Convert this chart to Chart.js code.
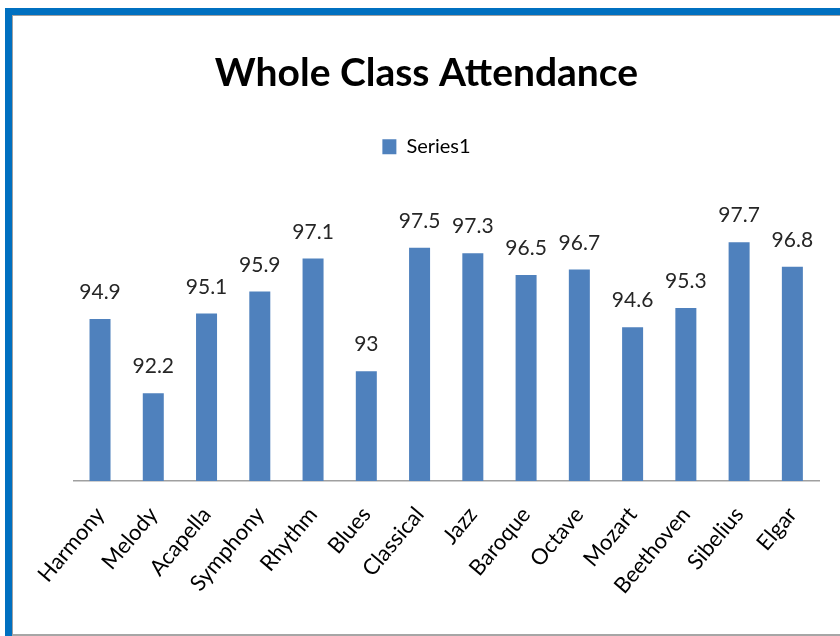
<!DOCTYPE html>
<html>
<head>
<meta charset="utf-8">
<script src="https://cdn.jsdelivr.net/npm/chart.js@4"></script>
<style>
  body { margin: 0; background: #fff; }
  #wrap { position: relative; width: 840px; height: 636px; overflow: hidden; }
  #frame {
    position: absolute; left: 5px; top: 8px; width: 900px; height: 625px;
    border-left: 7px solid #0070c0; border-top: 7px solid #0070c0;
    box-shadow: inset 1px 1px 0 #a0a0a0;
    pointer-events: none;
  }
  #bottomLine { position: absolute; left: 12px; top: 634px; width: 840px; height: 2px; background: #a6a6a6; }
  canvas { position: absolute; left: 0; top: 0; }
</style>
</head>
<body>
<div id="wrap">
  <canvas id="attendanceChart" width="840" height="636"></canvas>
  <div id="frame"></div>
  <div id="bottomLine"></div>
</div>
<script>
// 資料
const classes = ["Harmony", "Melody", "Acapella", "Symphony", "Rhythm", "Blues", "Classical",
                 "Jazz", "Baroque", "Octave", "Mozart", "Beethoven", "Sibelius", "Elgar"];
const attendance = [94.9, 92.2, 95.1, 95.9, 97.1, 93, 97.5, 97.3, 96.5, 96.7, 94.6, 95.3, 97.7, 96.8];
const seriesName = "Series1";
const chartTitle = "Whole Class Attendance";

const fontFamily = "Lato, 'Open Sans', sans-serif";

// 柱頂數值標籤
const valueLabels = {
    id: 'valueLabels',
    afterDatasetsDraw(chart) {
        let ctx = chart.ctx;
        let meta = chart.getDatasetMeta(0);
        ctx.save();
        ctx.font = "21px " + fontFamily;
        ctx.fillStyle = "#262626";
        ctx.textAlign = "center";
        ctx.textBaseline = "alphabetic";
        meta.data.forEach((bar, i) => {
            ctx.fillText(String(attendance[i]), bar.x, bar.y - 20);
        });
        ctx.restore();
    }
};

let ctx = document.getElementById("attendanceChart").getContext("2d");
window.attendanceChartInstance = new Chart(ctx, {
    type: 'bar',
    data: {
        labels: classes,
        datasets: [{
            label: seriesName,
            data: attendance,
            backgroundColor: '#4f81bd',
            borderWidth: 0,
            barPercentage: 0.8,
            categoryPercentage: 0.493
        }]
    },
    options: {
        responsive: false,
        animation: false,
        layout: { padding: { top: 16, left: 34, right: 21, bottom: 0 } },
        plugins: {
            title: {
                display: true,
                text: chartTitle,
                color: '#000',
                font: { family: fontFamily, size: 39, weight: 'bold' },
                padding: { top: 34, bottom: 16 }
            },
            // 空白 subtitle 當作圖例下方的間距
            subtitle: {
                display: true,
                text: '',
                weight: 500,
                font: { size: 1 },
                padding: { top: 0, bottom: 11 }
            },
            legend: {
                display: true,
                labels: {
                    color: '#000',
                    boxWidth: 14,
                    boxHeight: 15,
                    padding: 24,
                    font: { family: fontFamily, size: 20 }
                }
            },
            tooltip: { enabled: false }
        },
        scales: {
            x: {
                grid: { display: false },
                border: { color: '#a0a0a0', width: 1.5 },
                ticks: {
                    color: '#000',
                    font: { family: fontFamily, size: 22 },
                    minRotation: 50,
                    maxRotation: 50,
                    padding: 13
                },
                afterFit: (scale) => { scale.height = 155; }
            },
            y: {
                min: 89,
                max: 100,
                grid: { display: false },
                border: { display: false },
                ticks: { display: false },
                afterFit: (scale) => { scale.width = 39.4; }
            }
        }
    },
    plugins: [valueLabels]
});
</script>
</body>
</html>
